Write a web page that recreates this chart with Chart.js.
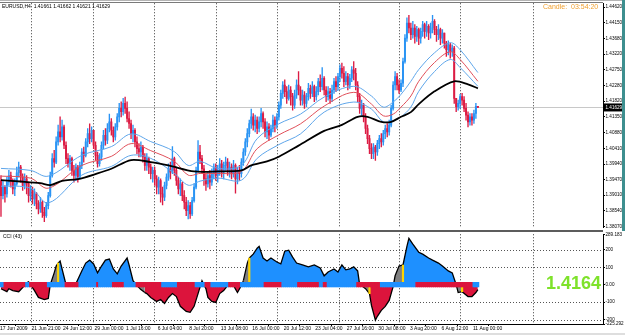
<!DOCTYPE html>
<html>
<head>
<meta charset="utf-8">
<script src="https://cdn.jsdelivr.net/npm/chart.js@4.4.0/dist/chart.umd.min.js"></script>
<style>
html, body { margin: 0; padding: 0; background: #fff; }
#wrap { position: relative; width: 625px; height: 335px; overflow: hidden; background: #fff; }
#top { position: absolute; left: 0; top: 0; }
#bot { position: absolute; left: 0; top: 231px; }
.bar { position: absolute; }
</style>
</head>
<body>
<div id="wrap">
  <canvas id="top" width="625" height="231"></canvas>
  <canvas id="bot" width="625" height="104"></canvas>
  <div class="bar" style="left:0;top:0;width:625px;height:1px;background:#b4b4b4"></div>
  <div class="bar" style="left:0;top:2px;width:603px;height:1px;background:#7a7a7a"></div>
  <div class="bar" style="left:0;top:230px;width:603px;height:2px;background:#5c5c5c"></div>
  <div class="bar" style="left:622px;top:0;width:3px;height:231px;background:#3d8f8f"></div>
  <div class="bar" style="left:0;top:333px;width:625px;height:2px;background:#dedede"></div>
</div>
<script>
// EURUSD H4
const closes = [
  1.3900, 1.3925, 1.3905, 1.3940, 1.3960, 1.3945, 1.3920, 1.3935, 1.3968, 1.3985,
  1.3955, 1.3930, 1.3950, 1.3935, 1.3900, 1.3915, 1.3890, 1.3905, 1.3875, 1.3860,
  1.3880, 1.3850, 1.3840, 1.3870, 1.3900, 1.3960, 1.4010, 1.4000, 1.4060, 1.4090,
  1.4075, 1.4105, 1.4050, 1.4010, 1.3995, 1.4010, 1.3975, 1.3960, 1.3985, 1.3955,
  1.3990, 1.4030, 1.4020, 1.4060, 1.4085, 1.4070, 1.4095, 1.4050, 1.4020, 1.3995,
  1.4015, 1.4050, 1.4080, 1.4065, 1.4100, 1.4120, 1.4095, 1.4075, 1.4105, 1.4135,
  1.4160, 1.4150, 1.4175, 1.4160, 1.4130, 1.4115, 1.4085, 1.4095, 1.4060, 1.4040,
  1.4030, 1.4045, 1.4015, 1.3990, 1.4010, 1.3985, 1.3965, 1.3975, 1.3950, 1.3925,
  1.3945, 1.3905, 1.3895, 1.3930, 1.3955, 1.3980, 1.3970, 1.4010, 1.3975, 1.3945,
  1.3920, 1.3935, 1.3900, 1.3880, 1.3855, 1.3870, 1.3845, 1.3885, 1.3925, 1.3975,
  1.4030, 1.4010, 1.3980, 1.3950, 1.3935, 1.3960, 1.3940, 1.3965, 1.3985, 1.3960,
  1.3975, 1.3995, 1.3970, 1.3990, 1.4000, 1.3975, 1.3985, 1.3965, 1.3990, 1.3950,
  1.3975, 1.3965, 1.4000, 1.4030, 1.4060, 1.4085, 1.4115, 1.4135, 1.4110, 1.4125,
  1.4100, 1.4120, 1.4145, 1.4120, 1.4090, 1.4105, 1.4080, 1.4100, 1.4125, 1.4110,
  1.4135, 1.4170, 1.4205, 1.4230, 1.4210, 1.4190, 1.4215, 1.4195, 1.4170, 1.4200,
  1.4230, 1.4215, 1.4185, 1.4200, 1.4175, 1.4195, 1.4220, 1.4205, 1.4225, 1.4195,
  1.4210, 1.4240, 1.4225, 1.4250, 1.4215, 1.4195, 1.4210, 1.4190, 1.4215, 1.4240,
  1.4225, 1.4255, 1.4280, 1.4265, 1.4240, 1.4255, 1.4230, 1.4250, 1.4275, 1.4265,
  1.4230, 1.4195, 1.4160, 1.4170, 1.4135, 1.4100, 1.4070, 1.4040, 1.4025, 1.4045,
  1.4030, 1.4055, 1.4070, 1.4060, 1.4085, 1.4100, 1.4090, 1.4110, 1.4160, 1.4230,
  1.4255, 1.4230, 1.4215, 1.4235, 1.4300, 1.4370, 1.4415, 1.4400, 1.4380, 1.4400,
  1.4375, 1.4395, 1.4370, 1.4390, 1.4410, 1.4390, 1.4405, 1.4385, 1.4400, 1.4420,
  1.4395, 1.4380, 1.4395, 1.4370, 1.4385, 1.4355, 1.4335, 1.4350, 1.4330, 1.4340,
  1.4190, 1.4165, 1.4175, 1.4195, 1.4185, 1.4160, 1.4140, 1.4120, 1.4135, 1.4125,
  1.4145, 1.41661, 1.41629
];
const highs = [
  1.3960, 1.3945, 1.3930, 1.3955, 1.3975, 1.3970, 1.3950, 1.3950, 1.3985, 1.4000,
  1.3990, 1.3965, 1.3965, 1.3960, 1.3940, 1.3930, 1.3925, 1.3920, 1.3910, 1.3885,
  1.3895, 1.3885, 1.3865, 1.3880, 1.3910, 1.3970, 1.4025, 1.4035, 1.4075, 1.4110,
  1.4135, 1.4125, 1.4110, 1.4060, 1.4025, 1.4020, 1.4015, 1.3990, 1.3995, 1.3990,
  1.4000, 1.4040, 1.4045, 1.4070, 1.4100, 1.4114, 1.4105, 1.4095, 1.4060, 1.4030,
  1.4025, 1.4060, 1.4095, 1.4100, 1.4115, 1.4143, 1.4130, 1.4105, 1.4115, 1.4145,
  1.4175, 1.4180, 1.4190, 1.4194, 1.4180, 1.4150, 1.4125, 1.4110, 1.4100, 1.4075,
  1.4055, 1.4060, 1.4050, 1.4025, 1.4025, 1.4015, 1.3995, 1.3985, 1.3985, 1.3960,
  1.3955, 1.3950, 1.3925, 1.3940, 1.3965, 1.3995, 1.4000, 1.4046, 1.4015, 1.3985,
  1.3955, 1.3950, 1.3940, 1.3915, 1.3895, 1.3885, 1.3880, 1.3895, 1.3935, 1.3985,
  1.4064, 1.4050, 1.4020, 1.3990, 1.3965, 1.3970, 1.3975, 1.3980, 1.3995, 1.3995,
  1.3990, 1.4010, 1.4005, 1.4000, 1.4015, 1.4010, 1.4000, 1.3995, 1.4005, 1.3995,
  1.3985, 1.3990, 1.4010, 1.4040, 1.4070, 1.4100, 1.4125, 1.4158, 1.4145, 1.4140,
  1.4135, 1.4135, 1.4160, 1.4150, 1.4130, 1.4120, 1.4115, 1.4110, 1.4140, 1.4135,
  1.4145, 1.4180, 1.4215, 1.4240, 1.4245, 1.4225, 1.4230, 1.4225, 1.4205, 1.4215,
  1.4245, 1.4270, 1.4225, 1.4215, 1.4210, 1.4205, 1.4235, 1.4230, 1.4240, 1.4230,
  1.4225, 1.4250, 1.4260, 1.4282, 1.4255, 1.4225, 1.4225, 1.4220, 1.4230, 1.4250,
  1.4255, 1.4265, 1.4290, 1.4295, 1.4285, 1.4270, 1.4265, 1.4262, 1.4285, 1.4300,
  1.4280, 1.4240, 1.4205, 1.4185, 1.4175, 1.4145, 1.4110, 1.4080, 1.4055, 1.4055,
  1.4050, 1.4065, 1.4080, 1.4085, 1.4095, 1.4110, 1.4115, 1.4125, 1.4170, 1.4240,
  1.4270, 1.4265, 1.4245, 1.4245, 1.4310, 1.4380, 1.4430, 1.4438, 1.4415, 1.4420,
  1.4410, 1.4405, 1.4400, 1.4400, 1.4420, 1.4415, 1.4420, 1.4410, 1.4415, 1.4438,
  1.4425, 1.4405, 1.4410, 1.4400, 1.4395, 1.4385, 1.4360, 1.4362, 1.4355, 1.4350,
  1.4345, 1.4190, 1.4185, 1.4202, 1.4205, 1.4195, 1.4175, 1.4150, 1.4145, 1.4145,
  1.4155, 1.4175, 1.41662
];
const lows = [
  1.3838, 1.3890, 1.3880, 1.3895, 1.3930, 1.3925, 1.3905, 1.3900, 1.3930, 1.3955,
  1.3940, 1.3915, 1.3920, 1.3905, 1.3880, 1.3885, 1.3875, 1.3870, 1.3860, 1.3845,
  1.3850, 1.3835, 1.3822, 1.3835, 1.3860, 1.3895, 1.3955, 1.3985, 1.3995, 1.4050,
  1.4060, 1.4065, 1.4040, 1.3995, 1.3985, 1.3975, 1.3960, 1.3940, 1.3945, 1.3940,
  1.3950, 1.3980, 1.4000, 1.4015, 1.4045, 1.4055, 1.4060, 1.4040, 1.4005, 1.3985,
  1.3988, 1.4005, 1.4040, 1.4050, 1.4055, 1.4090, 1.4080, 1.4060, 1.4065, 1.4095,
  1.4120, 1.4135, 1.4140, 1.4145, 1.4120, 1.4100, 1.4070, 1.4060, 1.4045, 1.4025,
  1.4015, 1.4015, 1.4000, 1.3975, 1.3975, 1.3965, 1.3950, 1.3940, 1.3930, 1.3905,
  1.3905, 1.3880, 1.3872, 1.3885, 1.3920, 1.3945, 1.3950, 1.3965, 1.3960, 1.3930,
  1.3905, 1.3900, 1.3885, 1.3860, 1.3840, 1.3830, 1.3832, 1.3840, 1.3880, 1.3920,
  1.3970, 1.3995, 1.3965, 1.3930, 1.3915, 1.3925, 1.3920, 1.3930, 1.3950, 1.3945,
  1.3940, 1.3960, 1.3955, 1.3950, 1.3975, 1.3960, 1.3955, 1.3950, 1.3955, 1.3907,
  1.3935, 1.3945, 1.3955, 1.3990, 1.4020, 1.4045, 1.4075, 1.4100, 1.4095, 1.4090,
  1.4085, 1.4090, 1.4105, 1.4100, 1.4075, 1.4070, 1.4065, 1.4075, 1.4090, 1.4090,
  1.4100, 1.4125, 1.4160, 1.4190, 1.4195, 1.4175, 1.4185, 1.4170, 1.4155, 1.4160,
  1.4190, 1.4200, 1.4170, 1.4170, 1.4160, 1.4165, 1.4185, 1.4190, 1.4195, 1.4180,
  1.4185, 1.4200, 1.4210, 1.4215, 1.4200, 1.4180, 1.4185, 1.4175, 1.4180, 1.4205,
  1.4210, 1.4215, 1.4240, 1.4250, 1.4225, 1.4230, 1.4215, 1.4220, 1.4240, 1.4245,
  1.4215, 1.4180, 1.4145, 1.4140, 1.4120, 1.4085, 1.4055, 1.4025, 1.4010, 1.4010,
  1.4005, 1.4020, 1.4040, 1.4045, 1.4050, 1.4070, 1.4075, 1.4080, 1.4105, 1.4155,
  1.4215, 1.4215, 1.4205, 1.4210, 1.4225, 1.4295, 1.4360, 1.4385, 1.4365, 1.4370,
  1.4355, 1.4360, 1.4350, 1.4355, 1.4375, 1.4370, 1.4375, 1.4365, 1.4370, 1.4385,
  1.4380, 1.4360, 1.4365, 1.4350, 1.4355, 1.4340, 1.4315, 1.4320, 1.4310, 1.4315,
  1.4175, 1.4150, 1.4155, 1.4160, 1.4170, 1.4150, 1.4125, 1.4105, 1.4110, 1.4110,
  1.4115, 1.4130, 1.41621
];
const firstOpen = 1.3945;
const bidPrice = 1.41629;
const priceTicks = [1.44620, 1.44150, 1.43680, 1.43220, 1.42750, 1.42280, 1.41820, 1.41350,
  1.40880, 1.40410, 1.39940, 1.39470, 1.39010, 1.38540, 1.38070];

// médias móveis (pontos lidos)
const maBars  = [0, 15, 24, 41, 56, 66, 76, 88, 95, 101, 110, 122, 130, 141, 152, 164, 179, 188, 194, 199, 203, 208, 212, 220, 228, 233, 242];
const maUpper = [1.3981, 1.3975, 1.3958, 1.4020, 1.4046, 1.4084, 1.4061, 1.4031, 1.3990, 1.4002, 1.3981, 1.3990, 1.4070, 1.4114,
  1.4143, 1.4194, 1.4226, 1.4197, 1.4164, 1.4179, 1.4202, 1.4241, 1.4276, 1.4326, 1.4356, 1.4335, 1.4267];
const maMid   = [1.3958, 1.3952, 1.3922, 1.3990, 1.4017, 1.4055, 1.4034, 1.4002, 1.3961, 1.3966, 1.3966, 1.3972, 1.4040, 1.4081,
  1.4114, 1.4167, 1.4208, 1.4173, 1.4138, 1.4143, 1.4164, 1.4197, 1.4241, 1.4297, 1.4329, 1.4306, 1.4241];
const maLower = [1.3928, 1.3922, 1.3878, 1.3961, 1.3987, 1.4020, 1.4011, 1.3966, 1.3931, 1.3943, 1.3952, 1.3946, 1.4011, 1.4052,
  1.4084, 1.4149, 1.4179, 1.4158, 1.4120, 1.4123, 1.4135, 1.4164, 1.4211, 1.4270, 1.4306, 1.4282, 1.4226];
const slowBars = [0, 10, 20, 25, 31, 39, 49, 56, 66, 76, 85, 98, 110, 122, 127, 135, 141, 151, 164, 173, 181, 186, 193, 198, 203, 208, 212, 220, 230, 237, 242];
const slowMa   = [1.3946, 1.3942, 1.3937, 1.3931, 1.3944, 1.3949, 1.3966, 1.3980, 1.4006, 1.4000, 1.3990, 1.3972, 1.3972, 1.3975,
  1.3990, 1.4002, 1.4016, 1.4049, 1.4093, 1.4111, 1.4135, 1.4135, 1.4120, 1.4120, 1.4135, 1.4149, 1.4173, 1.4211, 1.4241, 1.4232, 1.4220];

// CCI (43)
const cciBars = [0, 3, 4, 6, 9, 11, 13, 14, 15, 17, 19, 22, 24, 25, 27, 28, 29, 30, 31, 33, 35, 38, 41, 43, 45, 47, 49, 51, 53, 55,
  57, 59, 61, 64, 65, 67, 69, 71, 73, 74, 76, 79, 81, 83, 85, 87, 89, 91, 94, 96, 98, 100, 102, 104, 105, 107, 109, 111, 113, 115,
  117, 118, 120, 122, 123, 125, 126, 128, 130, 131, 133, 135, 137, 140, 142, 144, 146, 148, 150, 153, 156, 159, 162, 164, 166, 169,
  171, 173, 175, 177, 179, 181, 182, 183, 185, 187, 188, 190, 191, 193, 195, 197, 199, 200, 202, 204, 206, 207, 209, 212, 214, 217,
  219, 222, 224, 227, 229, 231, 232, 234, 237, 239, 241, 242];
const cciVals = [-23, -40, -23, -34, -40, -17, 11, 17, 0, -34, -73, -85, -79, 0, 68, 107, 124, 136, 90, 0, -5, 5, 79, 124, 141, 119, 68, 107, 141, 147,
  90, 62, 107, 153, 113, 23, -5, -28, -45, -51, -73, -96, -85, -107, -73, -51, -68, -124, -153, -158, -124, -51, 23, -23, -73, -96, -102, -51, -34, -5,
  0, -5, -45, -5, 23, 124, 153, 175, 209, 220, 153, 136, 153, 130, 119, 192, 198, 158, 124, 113, 102, 113, 96, 51, 73, 90,
  73, 113, 85, 90, 102, 79, 0, -5, -23, -51, -119, -203, -181, -147, -124, -90, -11, 51, 107, 113, 220, 266, 232, 186, 175, 153,
  141, 124, 107, 79, 68, 0, -45, -40, -68, -68, -45, -28];
const cciTicks = [289.183, 200, 100, 0, -100, -200, -225.292];
const cciGrid = [200, 100, -100, -200];
const grayRanges = [[25, 29], [69, 73], [123, 126], [183, 187], [199, 204], [231, 234]];
const yellowBars = [29, 126, 187, 204, 234];
const yellowVals = [124, 153, -51, 113, -40];
// faixa do zero: [início, fim, 1 = azul / -1 = vermelho]
const bandRuns = [[0, 1, 1], [2, 12, -1], [13, 14, 1], [15, 23, -1], [24, 32, 1], [33, 39, -1], [40, 48, 1], [49, 49, -1],
  [50, 56, 1], [57, 62, -1], [63, 68, 1], [69, 81, -1], [82, 89, 1], [90, 98, -1], [99, 103, 1], [104, 106, -1], [107, 115, 1],
  [116, 121, -1], [122, 133, 1], [134, 142, -1], [143, 150, 1], [151, 161, -1], [162, 163, 1], [164, 165, -1], [166, 180, 1],
  [181, 192, -1], [193, 210, 1], [211, 239, -1], [240, 242, 1]];

const dateLabels = ['17 Jun 2009', '21 Jun 21:00', '24 Jun 12:00', '29 Jun 00:00', '1 Jul 16:00', '6 Jul 04:00', '8 Jul 20:00',
  '13 Jul 08:00', '16 Jul 00:00', '20 Jul 12:00', '23 Jul 04:00', '27 Jul 16:00', '30 Jul 08:00', '3 Aug 20:00', '6 Aug 12:00', '11 Aug 00:00'];
const labelBars = [0, 16, 32, 48, 64, 80, 96, 112, 128, 144, 160, 176, 192, 208, 224, 240];
const gridBars = [15.2, 46.7, 77.6, 109.1, 140.1, 171.5, 202, 232.9, 270];
const SLOTS = 306;

const BULL = '#2a94f4';
const BEAR = '#dc1c44';
const FONT = 'Liberation Sans, Arial, sans-serif';

// monta os candles
const opens = closes.map((c, i) => i === 0 ? firstOpen : closes[i - 1]);
const wicks = closes.map((c, i) => ({x: i, y: [Math.min(lows[i], opens[i], c), Math.max(highs[i], opens[i], c)]}));
const bodies = closes.map((c, i) => ({x: i, y: [opens[i], c]}));
const candleColors = closes.map((c, i) => c >= opens[i] ? BULL : BEAR);

const toPts = (xs, ys) => xs.map((x, i) => ({x: x, y: ys[i]}));

const bandColors = [];
bandRuns.forEach(r => { for (let i = r[0]; i <= r[1]; i++) bandColors[i] = r[2] > 0 ? '#1e90ff' : '#dc143c'; });

const fixedWidth = s => { s.width = 22; };

const vgrid = {
  id: 'vgrid',
  beforeDatasetsDraw(chart) {
    const {ctx, chartArea: a, scales} = chart;
    ctx.save();
    ctx.strokeStyle = '#3a3a3a';
    ctx.lineWidth = 1;
    ctx.setLineDash([1, 2]);
    gridBars.forEach(b => {
      const px = Math.round(scales.x.getPixelForValue(b)) + 0.5;
      ctx.beginPath();
      ctx.moveTo(px, a.top);
      ctx.lineTo(px, a.bottom);
      ctx.stroke();
    });
    ctx.restore();
  }
};

const xScale = {
  type: 'linear', min: -0.5, max: SLOTS - 0.5, offset: false
};

new Chart(document.getElementById('top'), {
  type: 'bar',
  data: {
    datasets: [
      {type: 'line', data: toPts(slowBars, slowMa), borderColor: '#000', borderWidth: 1.8, pointRadius: 0, tension: 0.3, order: 1},
      {type: 'line', data: toPts(maBars, maUpper), borderColor: '#5fa6ea', borderWidth: 1, pointRadius: 0, tension: 0.35, order: 2},
      {type: 'line', data: toPts(maBars, maMid), borderColor: '#e0505a', borderWidth: 1, pointRadius: 0, tension: 0.35, order: 2},
      {type: 'line', data: toPts(maBars, maLower), borderColor: '#5fa6ea', borderWidth: 1, pointRadius: 0, tension: 0.35, order: 2},
      {data: bodies, backgroundColor: candleColors, barThickness: 1.3, grouped: false, order: 3},
      {data: wicks, backgroundColor: candleColors, barThickness: 0.7, grouped: false, order: 4}
    ]
  },
  options: {
    responsive: false,
    animation: false,
    layout: {padding: {top: 3, bottom: 1, left: 0, right: 0}},
    plugins: {legend: {display: false}, tooltip: {enabled: false}},
    scales: {
      x: Object.assign({display: false}, xScale),
      y: {
        position: 'right',
        min: 1.38040, max: 1.44738,
        afterFit: fixedWidth,
        afterBuildTicks: s => { s.ticks = priceTicks.map(v => ({value: v})); },
        ticks: {font: {family: FONT, size: 4.6}, color: '#000', padding: 0.5, autoSkip: false, callback: v => v.toFixed(5)},
        grid: {drawOnChartArea: false, tickLength: 2, color: '#000'},
        border: {display: true, color: '#000', width: 1}
      }
    }
  },
  plugins: [vgrid, {
    id: 'extras',
    beforeDatasetsDraw(chart) {
      const {ctx, chartArea: a, scales} = chart;
      const py = Math.round(scales.y.getPixelForValue(bidPrice)) + 0.5;
      ctx.save();
      ctx.strokeStyle = '#c8c8c8';
      ctx.lineWidth = 1;
      ctx.beginPath();
      ctx.moveTo(a.left, py);
      ctx.lineTo(a.right, py);
      ctx.stroke();
      ctx.restore();
    },
    afterDraw(chart) {
      const {ctx, chartArea: a, scales} = chart;
      ctx.save();
      ctx.textBaseline = 'middle';
      ctx.fillStyle = '#000';
      ctx.font = '5px ' + FONT;
      ctx.fillText('EURUSD,H4  1.41661 1.41662 1.41621 1.41629', 2, 7);
      ctx.fillStyle = '#f0a030';
      ctx.font = '7px ' + FONT;
      ctx.fillText('Candle:  03:54:20', 543, 7);
      const py = scales.y.getPixelForValue(bidPrice);
      ctx.fillStyle = '#000';
      ctx.fillRect(a.right + 1, py - 4, 19, 8);
      ctx.fillStyle = '#fff';
      ctx.font = '4.6px ' + FONT;
      ctx.fillText(bidPrice.toFixed(5), a.right + 2.5, py);
      ctx.restore();
    }
  }]
});

new Chart(document.getElementById('bot'), {
  type: 'bar',
  data: {
    datasets: [
      {data: bandColors.map((c, i) => ({x: i, y: [-13, 13]})), backgroundColor: bandColors, barThickness: 2.1, grouped: false, order: 0},
      {data: yellowBars.map((b, i) => ({x: b, y: [0, yellowVals[i]]})), backgroundColor: '#ffd400', barThickness: 1.5, grouped: false, order: 1},
      {
        type: 'line', data: toPts(cciBars, cciVals), borderColor: '#000', borderWidth: 1.3, pointRadius: 0, tension: 0, order: 2,
        fill: {target: {value: 0}, above: '#1e90ff', below: '#dc143c'},
        segment: {
          backgroundColor: c => grayRanges.some(r => c.p0.parsed.x >= r[0] && c.p1.parsed.x <= r[1]) ? '#808080' : undefined
        }
      }
    ]
  },
  options: {
    responsive: false,
    animation: false,
    layout: {padding: {top: 2, bottom: 0, left: 0, right: 0}},
    plugins: {legend: {display: false}, tooltip: {enabled: false}},
    scales: {
      x: Object.assign({
        afterFit: s => { s.height = 11; s.paddingLeft = 0; s.paddingRight = 0; },
        afterBuildTicks: s => { s.ticks = labelBars.map(b => ({value: b - 0.5})); },
        ticks: {font: {family: FONT, size: 5}, color: '#000', padding: 0, align: 'start', maxRotation: 0, autoSkip: false,
          callback: (v, i) => dateLabels[i]},
        grid: {drawOnChartArea: false, tickLength: 2, color: '#000'},
        border: {display: true, color: '#000', width: 1}
      }, xScale),
      y: {
        position: 'right',
        min: -225.292, max: 289.183,
        afterFit: fixedWidth,
        afterBuildTicks: s => { s.ticks = cciTicks.map(v => ({value: v})); },
        ticks: {font: {family: FONT, size: 4.6}, color: '#000', padding: 0.5, autoSkip: false,
          callback: v => v === 0 ? '0.00' : (Number.isInteger(v) ? String(v) : v.toFixed(3))},
        grid: {drawOnChartArea: false, tickLength: 2, color: '#000'},
        border: {display: true, color: '#000', width: 1}
      }
    }
  },
  plugins: [vgrid, {
    id: 'cciExtras',
    beforeDatasetsDraw(chart) {
      const {ctx, chartArea: a, scales} = chart;
      ctx.save();
      ctx.strokeStyle = '#555';
      ctx.lineWidth = 1;
      ctx.setLineDash([1, 2]);
      cciGrid.forEach(v => {
        const py = Math.round(scales.y.getPixelForValue(v)) + 0.5;
        ctx.beginPath();
        ctx.moveTo(a.left, py);
        ctx.lineTo(a.right, py);
        ctx.stroke();
      });
      ctx.restore();
    },
    afterDraw(chart) {
      const {ctx} = chart;
      ctx.save();
      ctx.textBaseline = 'middle';
      ctx.fillStyle = '#000';
      ctx.font = '5px ' + FONT;
      ctx.fillText('CCI (43)', 3, 6);
      ctx.fillStyle = '#7ee22a';
      ctx.font = 'bold 18px ' + FONT;
      ctx.fillText('1.4164', 546, 53);
      ctx.restore();
    }
  }]
});
</script>
</body>
</html>
